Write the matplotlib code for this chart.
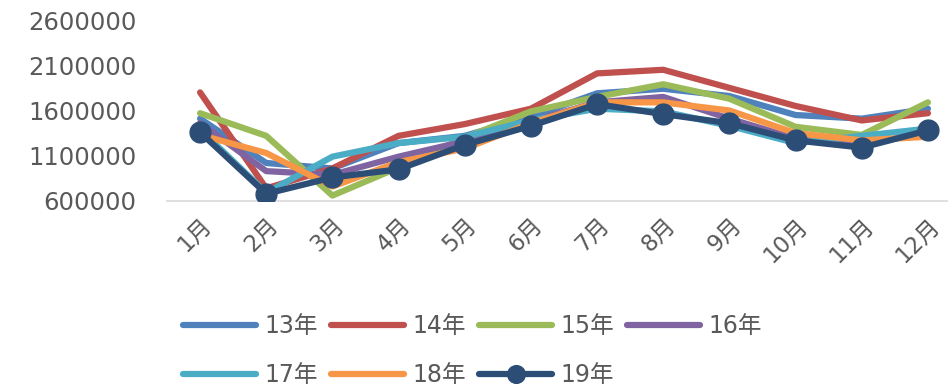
import matplotlib
matplotlib.use("Agg")
import matplotlib.pyplot as plt

months = ["1月", "2月", "3月", "4月", "5月", "6月", "7月", "8月", "9月", "10月", "11月", "12月"]
labels = ["13年", "14年", "15年", "16年", "17年", "18年", "19年"]

y13 = [1510000, 1020000, 960000, 1240000, 1320000, 1530000, 1790000, 1840000, 1760000, 1550000, 1510000, 1620000]
y14 = [1800000, 740000, 960000, 1320000, 1450000, 1620000, 2010000, 2050000, 1850000, 1650000, 1490000, 1570000]
y15 = [1570000, 1320000, 660000, 970000, 1300000, 1590000, 1750000, 1890000, 1730000, 1420000, 1330000, 1690000]
y16 = [1460000, 930000, 890000, 1090000, 1260000, 1480000, 1690000, 1750000, 1510000, 1290000, 1210000, 1370000]
y17 = [1390000, 690000, 1090000, 1240000, 1310000, 1490000, 1620000, 1590000, 1430000, 1240000, 1320000, 1400000]
y18 = [1330000, 1130000, 760000, 1030000, 1180000, 1460000, 1690000, 1690000, 1600000, 1350000, 1270000, 1310000]
y19 = [1360000, 680000, 860000, 950000, 1220000, 1430000, 1670000, 1560000, 1460000, 1270000, 1190000, 1380000]

yticks = [600000, 1100000, 1600000, 2100000, 2600000]

series = [y13, y14, y15, y16, y17, y18, y19]
colors = ["#4F81BD", "#C0504D", "#9BBB59", "#8064A2", "#4BACC6", "#F79646", "#2C4D75"]

plt.rcParams['font.family'] = ['DejaVu Sans', 'Noto Sans CJK SC']

fig = plt.figure(figsize=(9.48, 3.91), dpi=100)
ax = fig.add_axes([167 / 948, 1 - 201 / 391, 794 / 948, 181 / 391])

x = list(range(len(months)))
handles = []
for i, (ys, c, lab) in enumerate(zip(series, colors, labels)):
    if i == 6:
        h, = ax.plot(x, ys, color=c, lw=4.5, marker="o", markersize=15, label=lab,
                     solid_capstyle="round", solid_joinstyle="round", zorder=3 + i)
    else:
        h, = ax.plot(x, ys, color=c, lw=4.5, label=lab,
                     solid_capstyle="round", solid_joinstyle="round", zorder=3 + i)
    handles.append(h)

ax.set_xlim(-0.5, 11.5)
ax.set_ylim(600000, 2600000)
ax.set_yticks(yticks)
ax.set_yticklabels([str(v) for v in yticks])
ax.set_xticks(x)
ax.set_xticklabels(months, rotation=45, ha="right", va="top", rotation_mode="anchor")

for s in ["top", "right", "left"]:
    ax.spines[s].set_visible(False)
ax.spines["bottom"].set_color("#D9D9D9")
ax.spines["bottom"].set_linewidth(1.2)
ax.spines["bottom"].set_zorder(1)
ax.tick_params(axis="both", length=0, colors="#595959")
ax.tick_params(axis="y", pad=22, labelsize=17.5)
ax.tick_params(axis="x", pad=9, labelsize=16.5)
ax.patch.set_alpha(0)

# order so that matplotlib's column-wise fill gives row-wise legend
order = [0, 4, 1, 5, 2, 6, 3]
leg = fig.legend([handles[k] for k in order], [labels[k] for k in order],
                 loc="upper left", bbox_to_anchor=(183 / 948, 1 - 314 / 391), ncol=4,
                 frameon=False, fontsize=17, handlelength=3.1, handletextpad=0.35,
                 columnspacing=0.55, labelspacing=1.05, borderaxespad=0, borderpad=0,
                 markerscale=0.85)
for t in leg.get_texts():
    t.set_color("#595959")

fig.savefig("out.png", dpi=100)
